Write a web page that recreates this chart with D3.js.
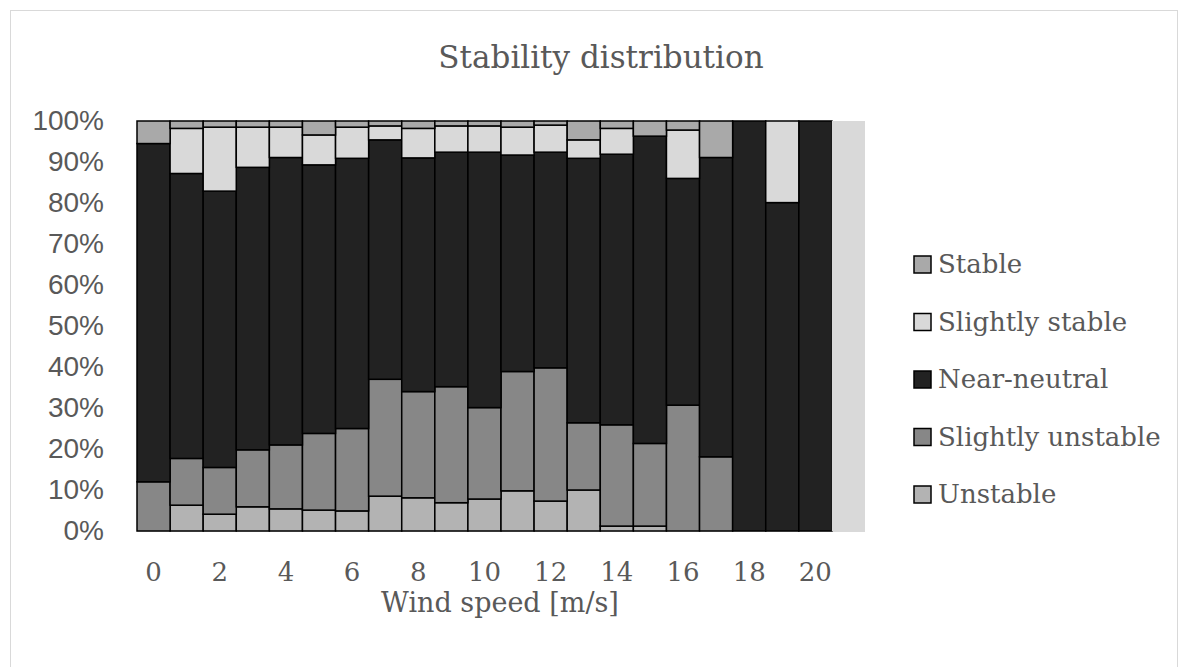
<!DOCTYPE html>
<html>
<head>
<meta charset="utf-8">
<script src="https://cdn.jsdelivr.net/npm/d3@7"></script>
<style>
  body { margin: 0; background: #fff; }
  text { fill: #595959; }
</style>
</head>
<body>
<svg id="chart" width="1188" height="667"></svg>
<script>
// wind speed bins 0..21 m/s
const speeds = d3.range(0, 22);
const unstable         = [0, 6.3, 4.1, 5.9, 5.4, 5.1, 4.9, 8.5, 8.1, 6.9, 7.8, 9.8, 7.3, 10, 1.2, 1.2, 0, 0, 0, 0, 0, 0];
const slightlyUnstable = [12, 11.4, 11.4, 13.9, 15.6, 18.7, 20.1, 28.5, 25.9, 28.3, 22.3, 29.1, 32.5, 16.4, 24.7, 20.2, 30.7, 18.1, 0, 0, 0, 0];
const nearNeutral      = [82.5, 69.5, 67.4, 68.9, 70.1, 65.5, 65.9, 58.4, 57, 57.2, 62.3, 52.8, 52.6, 64.5, 66, 75.1, 55.3, 73, 100, 80.1, 100, 0];
const slightlyStable   = [0, 11, 15.6, 9.8, 7.4, 7.3, 7.6, 3.4, 7.2, 6.4, 6.4, 6.8, 6.6, 4.5, 6.3, 0, 11.8, 0, 0, 19.9, 0, 100];
const stable           = [5.5, 1.8, 1.5, 1.5, 1.5, 3.4, 1.5, 1.2, 1.8, 1.2, 1.2, 1.5, 1.0, 4.6, 1.8, 3.7, 2.2, 8.9, 0, 0, 0, 0];
const xTicks = [0, 2, 4, 6, 8, 10, 12, 14, 16, 18, 20];
const yTicks = [0, 0.1, 0.2, 0.3, 0.4, 0.5, 0.6, 0.7, 0.8, 0.9, 1];

const keys = ['Unstable', 'Slightly unstable', 'Near-neutral', 'Slightly stable', 'Stable'];
const colors = ['#b3b3b3', '#878787', '#222222', '#d9d9d9', '#a9a9a9'];

const rows = speeds.map((s, i) => ({
  speed: s,
  'Unstable': unstable[i],
  'Slightly unstable': slightlyUnstable[i],
  'Near-neutral': nearNeutral[i],
  'Slightly stable': slightlyStable[i],
  'Stable': stable[i]
}));

const svg = d3.select('#chart');
const margin = {top: 121, right: 323, bottom: 136, left: 137};
const width = 1188, height = 667;
const serif = '"DejaVu Serif", serif';

// outer frame
svg.append('rect')
  .attr('x', 10.5).attr('y', 10.5)
  .attr('width', 1167).attr('height', 680)
  .attr('fill', 'none')
  .attr('stroke', '#d9d9d9');

const x = d3.scaleBand()
  .domain(speeds)
  .range([margin.left, width - margin.right])
  .padding(0);

const y = d3.scaleLinear()
  .domain([0, 1])
  .range([height - margin.bottom, margin.top]);

const color = d3.scaleOrdinal().domain(keys).range(colors);

const series = d3.stack()
  .keys(keys)
  .offset(d3.stackOffsetExpand)(rows);

// baseline
svg.append('line')
  .attr('x1', margin.left).attr('x2', width - margin.right)
  .attr('y1', y(0) + 0.5).attr('y2', y(0) + 0.5)
  .attr('stroke', '#d9d9d9');

svg.append('g')
  .selectAll('g')
  .data(series)
  .join('g')
    .attr('fill', d => color(d.key))
  .selectAll('rect')
  .data(d => d.filter(p => p[1] - p[0] > 0))
  .join('rect')
    .attr('x', d => x(d.data.speed))
    .attr('y', d => y(d[1]))
    .attr('width', x.bandwidth())
    .attr('height', d => y(d[0]) - y(d[1]))
    .attr('stroke', d => d.data.speed === 21 ? 'none' : '#000')
    .attr('stroke-width', 1.5);

// y axis
const yAxis = svg.append('g')
  .attr('transform', `translate(${margin.left}, 0)`)
  .call(d3.axisLeft(y).tickValues(yTicks).tickFormat(d3.format('.0%')).tickSize(0).tickPadding(33));
yAxis.select('.domain').remove();
yAxis.selectAll('text')
  .attr('font-family', '"Liberation Sans", Arial, sans-serif')
  .attr('font-size', 28)
  .attr('fill', '#595959');

// x axis
const xAxis = svg.append('g')
  .attr('transform', `translate(0, ${y(0)})`)
  .call(d3.axisBottom(x).tickValues(xTicks).tickSize(0).tickPadding(32));
xAxis.select('.domain').remove();
xAxis.selectAll('text')
  .attr('font-family', serif)
  .attr('font-size', 26)
  .attr('fill', '#595959');

// titles
svg.append('text')
  .attr('x', 601).attr('y', 68)
  .attr('text-anchor', 'middle')
  .attr('font-family', serif)
  .attr('font-size', 31)
  .text('Stability distribution');

svg.append('text')
  .attr('x', 500).attr('y', 612)
  .attr('text-anchor', 'middle')
  .attr('font-family', serif)
  .attr('font-size', 27)
  .text('Wind speed [m/s]');

// legend, top to bottom
const legendKeys = keys.slice().reverse();
const legend = svg.append('g')
  .selectAll('g')
  .data(legendKeys)
  .join('g')
    .attr('transform', (d, i) => `translate(914, ${264 + i * 57.5})`);

legend.append('rect')
  .attr('x', 0).attr('y', -8)
  .attr('width', 17).attr('height', 17)
  .attr('fill', d => color(d))
  .attr('stroke', '#000')
  .attr('stroke-width', 1.5);

legend.append('text')
  .attr('x', 24).attr('y', 0)
  .attr('dy', '0.35em')
  .attr('font-family', serif)
  .attr('font-size', 26)
  .text(d => d);
</script>
</body>
</html>
